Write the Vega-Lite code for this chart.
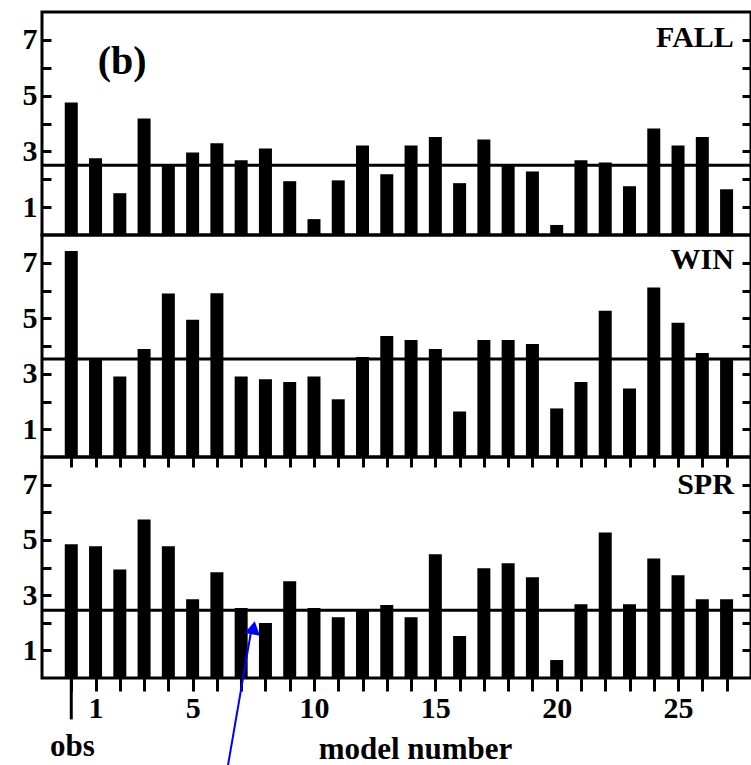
{
  "$schema": "https://vega.github.io/schema/vega-lite/v6.json",
  "padding": {"left": 20, "top": 10, "right": 0, "bottom": 0},
  "spacing": 0,
  "bounds": "flush",
  "config": {
    "view": {"stroke": "black", "strokeWidth": 3},
    "axis": {"grid": false, "domain": false, "tickColor": "black", "tickWidth": 3, "labelFont": "Liberation Serif", "labelFontWeight": "bold", "labelColor": "black", "labelFontSize": 30, "titleFont": "Liberation Serif", "titleFontWeight": "bold", "titleColor": "black", "title": null},
    "text": {"font": "Liberation Serif", "fontWeight": "bold", "color": "black"}
  },
  "datasets": {
    "bars": [
      {"season": "FALL", "model": 0, "value": 4.75}, {"season": "FALL", "model": 1, "value": 2.75}, {"season": "FALL", "model": 2, "value": 1.5}, {"season": "FALL", "model": 3, "value": 4.18},
      {"season": "FALL", "model": 4, "value": 2.5}, {"season": "FALL", "model": 5, "value": 2.96}, {"season": "FALL", "model": 6, "value": 3.29}, {"season": "FALL", "model": 7, "value": 2.68},
      {"season": "FALL", "model": 8, "value": 3.1}, {"season": "FALL", "model": 9, "value": 1.93}, {"season": "FALL", "model": 10, "value": 0.57}, {"season": "FALL", "model": 11, "value": 1.96},
      {"season": "FALL", "model": 12, "value": 3.21}, {"season": "FALL", "model": 13, "value": 2.18}, {"season": "FALL", "model": 14, "value": 3.21}, {"season": "FALL", "model": 15, "value": 3.52},
      {"season": "FALL", "model": 16, "value": 1.86}, {"season": "FALL", "model": 17, "value": 3.43}, {"season": "FALL", "model": 18, "value": 2.55}, {"season": "FALL", "model": 19, "value": 2.28},
      {"season": "FALL", "model": 20, "value": 0.36}, {"season": "FALL", "model": 21, "value": 2.68}, {"season": "FALL", "model": 22, "value": 2.6}, {"season": "FALL", "model": 23, "value": 1.75},
      {"season": "FALL", "model": 24, "value": 3.82}, {"season": "FALL", "model": 25, "value": 3.21}, {"season": "FALL", "model": 26, "value": 3.52}, {"season": "FALL", "model": 27, "value": 1.64},
      {"season": "WIN", "model": 0, "value": 7.42}, {"season": "WIN", "model": 1, "value": 3.55}, {"season": "WIN", "model": 2, "value": 2.9}, {"season": "WIN", "model": 3, "value": 3.89},
      {"season": "WIN", "model": 4, "value": 5.89}, {"season": "WIN", "model": 5, "value": 4.95}, {"season": "WIN", "model": 6, "value": 5.9}, {"season": "WIN", "model": 7, "value": 2.9},
      {"season": "WIN", "model": 8, "value": 2.8}, {"season": "WIN", "model": 9, "value": 2.7}, {"season": "WIN", "model": 10, "value": 2.9}, {"season": "WIN", "model": 11, "value": 2.08},
      {"season": "WIN", "model": 12, "value": 3.6}, {"season": "WIN", "model": 13, "value": 4.36}, {"season": "WIN", "model": 14, "value": 4.22}, {"season": "WIN", "model": 15, "value": 3.89},
      {"season": "WIN", "model": 16, "value": 1.64}, {"season": "WIN", "model": 17, "value": 4.22}, {"season": "WIN", "model": 18, "value": 4.22}, {"season": "WIN", "model": 19, "value": 4.07},
      {"season": "WIN", "model": 20, "value": 1.75}, {"season": "WIN", "model": 21, "value": 2.7}, {"season": "WIN", "model": 22, "value": 5.27}, {"season": "WIN", "model": 23, "value": 2.47},
      {"season": "WIN", "model": 24, "value": 6.11}, {"season": "WIN", "model": 25, "value": 4.84}, {"season": "WIN", "model": 26, "value": 3.75}, {"season": "WIN", "model": 27, "value": 3.53},
      {"season": "SPR", "model": 0, "value": 4.84}, {"season": "SPR", "model": 1, "value": 4.77}, {"season": "SPR", "model": 2, "value": 3.93}, {"season": "SPR", "model": 3, "value": 5.74},
      {"season": "SPR", "model": 4, "value": 4.77}, {"season": "SPR", "model": 5, "value": 2.85}, {"season": "SPR", "model": 6, "value": 3.83}, {"season": "SPR", "model": 7, "value": 2.53},
      {"season": "SPR", "model": 8, "value": 1.99}, {"season": "SPR", "model": 9, "value": 3.5}, {"season": "SPR", "model": 10, "value": 2.53}, {"season": "SPR", "model": 11, "value": 2.2},
      {"season": "SPR", "model": 12, "value": 2.5}, {"season": "SPR", "model": 13, "value": 2.64}, {"season": "SPR", "model": 14, "value": 2.2}, {"season": "SPR", "model": 15, "value": 4.48},
      {"season": "SPR", "model": 16, "value": 1.52}, {"season": "SPR", "model": 17, "value": 3.97}, {"season": "SPR", "model": 18, "value": 4.15}, {"season": "SPR", "model": 19, "value": 3.65},
      {"season": "SPR", "model": 20, "value": 0.65}, {"season": "SPR", "model": 21, "value": 2.67}, {"season": "SPR", "model": 22, "value": 5.27}, {"season": "SPR", "model": 23, "value": 2.67},
      {"season": "SPR", "model": 24, "value": 4.33}, {"season": "SPR", "model": 25, "value": 3.72}, {"season": "SPR", "model": 26, "value": 2.85}, {"season": "SPR", "model": 27, "value": 2.85}
    ],
    "means": [
      {"season": "FALL", "mean": 2.5},
      {"season": "WIN", "mean": 3.53},
      {"season": "SPR", "mean": 2.45}
    ]
  },
  "vconcat": [
    {
      "width": 709, "height": 223,
      "layer": [
        {
          "data": {"name": "bars"},
          "transform": [{"filter": "datum.season === 'FALL'"}],
          "mark": {"type": "bar", "color": "black", "size": 13},
          "encoding": {
            "x": {"field": "model", "type": "quantitative", "scale": {"domain": [-1, 27.8], "nice": false, "zero": false}, "axis": null},
            "y": {"field": "value", "type": "quantitative", "scale": {"domain": [0, 8], "nice": false}, "axis": {"orient": "left", "values": [1, 2, 3, 4, 5, 6, 7], "labelExpr": "datum.value % 2 === 1 ? datum.label : ''", "tickSize": -9, "labelPadding": 14}}
          }
        },
        {
          "data": {"name": "means"},
          "transform": [{"filter": "datum.season === 'FALL'"}],
          "mark": {"type": "rule", "color": "black", "strokeWidth": 3},
          "encoding": {
            "y": {"field": "mean", "type": "quantitative", "axis": {"orient": "right", "values": [1, 2, 3, 4, 5, 6, 7], "labels": false, "tickSize": -9}}
          }
        },
        {
          "data": {"values": [{}]},
          "mark": {"type": "text", "align": "right", "baseline": "middle", "fontSize": 30},
          "encoding": {
            "x": {"datum": 27.3, "type": "quantitative", "axis": {"orient": "top", "values": [0, 1, 2, 3, 4, 5, 6, 7, 8, 9, 10, 11, 12, 13, 14, 15, 16, 17, 18, 19, 20, 21, 22, 23, 24, 25, 26, 27], "labels": false, "tickSize": -10}},
            "y": {"datum": 7.05, "type": "quantitative", "axis": null},
            "text": {"value": "FALL"}
          }
        },
        {
          "data": {"values": [{}]},
          "mark": {"type": "text", "align": "center", "baseline": "middle", "fontSize": 40},
          "encoding": {
            "x": {"datum": 2.1, "type": "quantitative", "axis": null},
            "y": {"datum": 6.2, "type": "quantitative", "axis": null},
            "text": {"value": "(b)"}
          }
        }
      ]
    },
    {
      "width": 709, "height": 222,
      "layer": [
        {
          "data": {"name": "bars"},
          "transform": [{"filter": "datum.season === 'WIN'"}],
          "mark": {"type": "bar", "color": "black", "size": 13},
          "encoding": {
            "x": {"field": "model", "type": "quantitative", "scale": {"domain": [-1, 27.8], "nice": false, "zero": false}, "axis": null},
            "y": {"field": "value", "type": "quantitative", "scale": {"domain": [0, 8], "nice": false}, "axis": {"orient": "left", "values": [1, 2, 3, 4, 5, 6, 7], "labelExpr": "datum.value % 2 === 1 ? datum.label : ''", "tickSize": -9, "labelPadding": 14}}
          }
        },
        {
          "data": {"name": "means"},
          "transform": [{"filter": "datum.season === 'WIN'"}],
          "mark": {"type": "rule", "color": "black", "strokeWidth": 3},
          "encoding": {
            "y": {"field": "mean", "type": "quantitative", "axis": {"orient": "right", "values": [1, 2, 3, 4, 5, 6, 7], "labels": false, "tickSize": -9}}
          }
        },
        {
          "data": {"values": [{}]},
          "mark": {"type": "text", "align": "right", "baseline": "middle", "fontSize": 30},
          "encoding": {
            "x": {"datum": 27.3, "type": "quantitative", "axis": {"orient": "top", "values": [0, 1, 2, 3, 4, 5, 6, 7, 8, 9, 10, 11, 12, 13, 14, 15, 16, 17, 18, 19, 20, 21, 22, 23, 24, 25, 26, 27], "labels": false, "tickSize": -10}},
            "y": {"datum": 7.1, "type": "quantitative", "axis": null},
            "text": {"value": "WIN"}
          }
        }
      ]
    },
    {
      "width": 709, "height": 221,
      "layer": [
        {
          "data": {"name": "bars"},
          "transform": [{"filter": "datum.season === 'SPR'"}],
          "mark": {"type": "bar", "color": "black", "size": 13},
          "encoding": {
            "x": {"field": "model", "type": "quantitative", "scale": {"domain": [-1, 27.8], "nice": false, "zero": false}, "axis": {"orient": "bottom", "values": [0, 1, 2, 3, 4, 5, 6, 7, 8, 9, 10, 11, 12, 13, 14, 15, 16, 17, 18, 19, 20, 21, 22, 23, 24, 25, 26, 27], "labelExpr": "(datum.value === 1 || (datum.value > 0 && datum.value % 5 === 0)) ? datum.label : ''", "tickSize": 13, "labelPadding": 2, "labelFontSize": 30, "title": "model number", "titleFontSize": 31, "titlePadding": 11, "titleX": 373}},
            "y": {"field": "value", "type": "quantitative", "scale": {"domain": [0, 8], "nice": false}, "axis": {"orient": "left", "values": [1, 2, 3, 4, 5, 6, 7], "labelExpr": "datum.value % 2 === 1 ? datum.label : ''", "tickSize": -9, "labelPadding": 14}}
          }
        },
        {
          "data": {"name": "means"},
          "transform": [{"filter": "datum.season === 'SPR'"}],
          "mark": {"type": "rule", "color": "black", "strokeWidth": 3},
          "encoding": {
            "y": {"field": "mean", "type": "quantitative", "axis": {"orient": "right", "values": [1, 2, 3, 4, 5, 6, 7], "labels": false, "tickSize": -9}}
          }
        },
        {
          "data": {"values": [{}]},
          "mark": {"type": "text", "align": "right", "baseline": "middle", "fontSize": 30},
          "encoding": {
            "x": {"datum": 27.3, "type": "quantitative", "axis": {"orient": "top", "values": [0, 1, 2, 3, 4, 5, 6, 7, 8, 9, 10, 11, 12, 13, 14, 15, 16, 17, 18, 19, 20, 21, 22, 23, 24, 25, 26, 27], "labels": false, "tickSize": -10}},
            "y": {"datum": 7.0, "type": "quantitative", "axis": null},
            "text": {"value": "SPR"}
          }
        },
        {
          "data": {"values": [{}]},
          "mark": {"type": "rule", "color": "black", "strokeWidth": 3},
          "encoding": {
            "x": {"datum": 0, "type": "quantitative", "axis": null},
            "y": {"datum": 0, "type": "quantitative", "axis": null},
            "y2": {"datum": -1.5}
          }
        },
        {
          "data": {"values": [{}]},
          "mark": {"type": "text", "align": "center", "baseline": "middle", "fontSize": 31},
          "encoding": {
            "x": {"datum": 0.05, "type": "quantitative", "axis": null},
            "y": {"datum": -2.5, "type": "quantitative", "axis": null},
            "text": {"value": "obs"}
          }
        },
        {
          "data": {"values": [{}]},
          "mark": {"type": "rule", "color": "#0000ff", "strokeWidth": 2},
          "encoding": {
            "x": {"datum": 6.43, "type": "quantitative", "axis": null},
            "y": {"datum": -3.3, "type": "quantitative", "axis": null},
            "x2": {"datum": 7.45},
            "y2": {"datum": 1.9}
          }
        },
        {
          "data": {"values": [{}]},
          "mark": {"type": "point", "shape": "triangle-up", "filled": true, "color": "#0000ff", "opacity": 1, "size": 240, "angle": 10.5},
          "encoding": {
            "x": {"datum": 7.51, "type": "quantitative", "axis": null},
            "y": {"datum": 1.82, "type": "quantitative", "axis": null}
          }
        }
      ]
    }
  ]
}
